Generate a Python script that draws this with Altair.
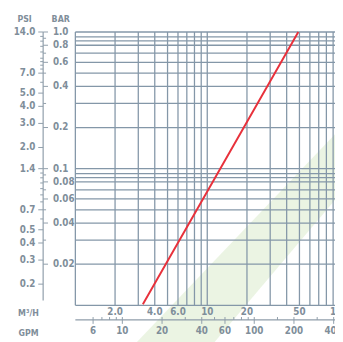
import altair as alt
import pandas as pd

# ---- data ----
flow_grid = [1, 2, 3, 4, 5, 6, 7, 8, 9, 10, 20, 30, 40, 50, 60, 70, 80, 90]
bar_grid = [1.0, 0.92, 0.86, 0.8, 0.7, 0.6, 0.5, 0.4, 0.3, 0.2,
            0.1, 0.092, 0.086, 0.08, 0.07, 0.06, 0.05, 0.04, 0.03, 0.02, 0.01]

curve_flow = [3.25, 10, 49]        # m3/h
curve_bar = [0.0102, 0.068, 1.0]   # bar

psi_values = [14.0, 7.0, 5.0, 4.0, 3.0, 2.0, 1.4, 0.7, 0.5, 0.4, 0.3, 0.2]
psi_text = ["14.0", "7.0", "5.0", "4.0", "3.0", "2.0", "1.4", "0.7", "0.5", "0.4", "0.3", "0.2"]
psi_minor = [13, 12, 11, 10, 9, 8.5, 8, 7.5, 6, 1.3, 1.2, 1.1, 1.0, 0.9, 0.8, 0.6]

bar_values = [1.0, 0.8, 0.6, 0.4, 0.2, 0.1, 0.08, 0.06, 0.04, 0.02]
bar_text = ["1.0", "0.8", "0.6", "0.4", "0.2", "0.1", "0.08", "0.06", "0.04", "0.02"]
bar_minor = [0.9, 0.7, 0.5, 0.3, 0.09, 0.07, 0.05, 0.03]

m3h_values = [2, 4, 6, 10, 20, 50, 100]
m3h_text = ["2.0", "4.0", "6.0", "10", "20", "50", "100"]

gpm_values = [6, 10, 20, 40, 60, 100, 200, 400]
gpm_text = ["6", "10", "20", "40", "60", "100", "200", "400"]
gpm_minor = [7, 8, 9, 30, 50, 70, 80, 90, 150, 300]

# faint watermark band (lower and upper edges)
band_flow = [2.93, 124.8]
band_low = [0.00115, 0.0825]
band_high = [0.0054, 0.241]

PSI_PER_BAR = 14.0
GPM_PER_M3H = 4.403

# ---- styling ----
W, H = 266, 280
GRID = "#8497a8"
AXIS = "#8f9daa"
TXT = "#7f8e9a"
FONT = "Liberation Sans Narrow, DejaVu Sans Condensed, sans-serif"

xs = alt.Scale(type="log", domain=[1, 93], nice=False)
ys = alt.Scale(type="log", domain=[0.01, 1.0], nice=False)

def X(f="flow"):
    return alt.X(f"{f}:Q", scale=xs, axis=None)

def Y(f="bar"):
    return alt.Y(f"{f}:Q", scale=ys, axis=None)

band = alt.Chart(pd.DataFrame({"flow": band_flow, "lo": band_low, "hi": band_high})).mark_area(
    color="#e6f1dc", opacity=0.8
).encode(x=X(), y=Y("lo"), y2="hi:Q")

grid_v = alt.Chart(pd.DataFrame({"flow": flow_grid})).mark_rule(
    color=GRID, strokeWidth=1.3
).encode(x=X(), y=alt.value(0), y2=alt.value(H))

grid_h = alt.Chart(pd.DataFrame({"bar": bar_grid})).mark_rule(
    color=GRID, strokeWidth=1.3
).encode(y=Y(), x=alt.value(0), x2=alt.value(W + 10))

curve = alt.Chart(pd.DataFrame({"flow": curve_flow, "bar": curve_bar})).mark_line(
    color="#e8313b", strokeWidth=2
).encode(x=X(), y=Y())

# left double axis (PSI | BAR)
axis_line = alt.Chart(pd.DataFrame({"a": [0]})).mark_rule(color=AXIS, strokeWidth=1.2).encode(
    x=alt.value(-33), y=alt.value(0), y2=alt.value(275)
)

psi_df = pd.DataFrame({"psi": psi_values, "label": psi_text})
psi_ticks = alt.Chart(psi_df).transform_calculate(bar=f"datum.psi/{PSI_PER_BAR}").mark_rule(
    color=AXIS, strokeWidth=1
).encode(y=Y(), x=alt.value(-38), x2=alt.value(-33))
psi_minor_ticks = alt.Chart(pd.DataFrame({"psi": psi_minor})).transform_calculate(
    bar=f"datum.psi/{PSI_PER_BAR}"
).mark_rule(color=AXIS, strokeWidth=1).encode(y=Y(), x=alt.value(-36), x2=alt.value(-33))
psi_labels = alt.Chart(psi_df).transform_calculate(bar=f"datum.psi/{PSI_PER_BAR}").mark_text(
    align="right", baseline="middle", font=FONT, fontSize=10, color=TXT, fontWeight="bold"
).encode(y=Y(), x=alt.value(-41), text="label:N")

bar_df = pd.DataFrame({"bar": bar_values, "label": bar_text})
bar_ticks = alt.Chart(bar_df).mark_rule(color=AXIS, strokeWidth=1).encode(
    y=Y(), x=alt.value(-33), x2=alt.value(-28)
)
bar_minor_ticks = alt.Chart(pd.DataFrame({"bar": bar_minor})).mark_rule(
    color=AXIS, strokeWidth=1
).encode(y=Y(), x=alt.value(-33), x2=alt.value(-30))
bar_labels = alt.Chart(bar_df).mark_text(
    align="left", baseline="middle", font=FONT, fontSize=10, color=TXT, fontWeight="bold"
).encode(y=Y(), x=alt.value(-23), text="label:N")

hdr = pd.DataFrame({"a": [0]})
psi_hdr = alt.Chart(hdr).mark_text(text="PSI", font=FONT, fontSize=9, color=TXT,
                                   fontWeight="bold", baseline="middle").encode(
    x=alt.value(-52), y=alt.value(-13)
)
bar_hdr = alt.Chart(hdr).mark_text(text="BAR", font=FONT, fontSize=9, color=TXT,
                                   fontWeight="bold", baseline="middle").encode(
    x=alt.value(-15), y=alt.value(-13)
)

# bottom double axis (M3/H | GPM)
m3h_labels = alt.Chart(pd.DataFrame({"flow": m3h_values, "label": m3h_text})).mark_text(
    baseline="middle", font=FONT, fontSize=10, color=TXT, fontWeight="bold"
).encode(x=X(), y=alt.value(287), text="label:N")
m3h_hdr = alt.Chart(hdr).mark_text(text="M³/H", font=FONT, fontSize=9, color=TXT,
                                   fontWeight="bold", baseline="middle").encode(
    x=alt.value(-48), y=alt.value(288)
)
gpm_line = alt.Chart(hdr).mark_rule(color=AXIS, strokeWidth=1.2).encode(
    x=alt.value(0), x2=alt.value(W + 10), y=alt.value(295)
)
gpm_df = pd.DataFrame({"gpm": gpm_values, "label": gpm_text})
gpm_ticks = alt.Chart(gpm_df).transform_calculate(flow=f"datum.gpm/{GPM_PER_M3H}").mark_rule(
    color=AXIS, strokeWidth=1
).encode(x=X(), y=alt.value(292), y2=alt.value(299))
gpm_minor_ticks = alt.Chart(pd.DataFrame({"gpm": gpm_minor})).transform_calculate(
    flow=f"datum.gpm/{GPM_PER_M3H}"
).mark_rule(color=AXIS, strokeWidth=1).encode(x=X(), y=alt.value(292), y2=alt.value(295))
gpm_labels = alt.Chart(gpm_df).transform_calculate(flow=f"datum.gpm/{GPM_PER_M3H}").mark_text(
    baseline="middle", font=FONT, fontSize=10, color=TXT, fontWeight="bold"
).encode(x=X(), y=alt.value(306.5), text="label:N")
gpm_hdr = alt.Chart(hdr).mark_text(text="GPM", font=FONT, fontSize=9, color=TXT,
                                   fontWeight="bold", baseline="middle").encode(
    x=alt.value(-48), y=alt.value(308)
)

chart = alt.layer(
    band, grid_v, grid_h, curve,
    axis_line, psi_ticks, psi_minor_ticks, psi_labels,
    bar_ticks, bar_minor_ticks, bar_labels, psi_hdr, bar_hdr,
    m3h_labels, m3h_hdr, gpm_line, gpm_ticks, gpm_minor_ticks, gpm_labels, gpm_hdr,
).properties(
    width=W, height=H,
    padding={"left": 69, "top": 20.5, "right": 0, "bottom": 34},
    autosize=alt.AutoSizeParams(type="none"),
    background="white",
).configure_view(strokeWidth=0)

chart.save("out.html", embed_options={"renderer": "svg", "actions": False})
